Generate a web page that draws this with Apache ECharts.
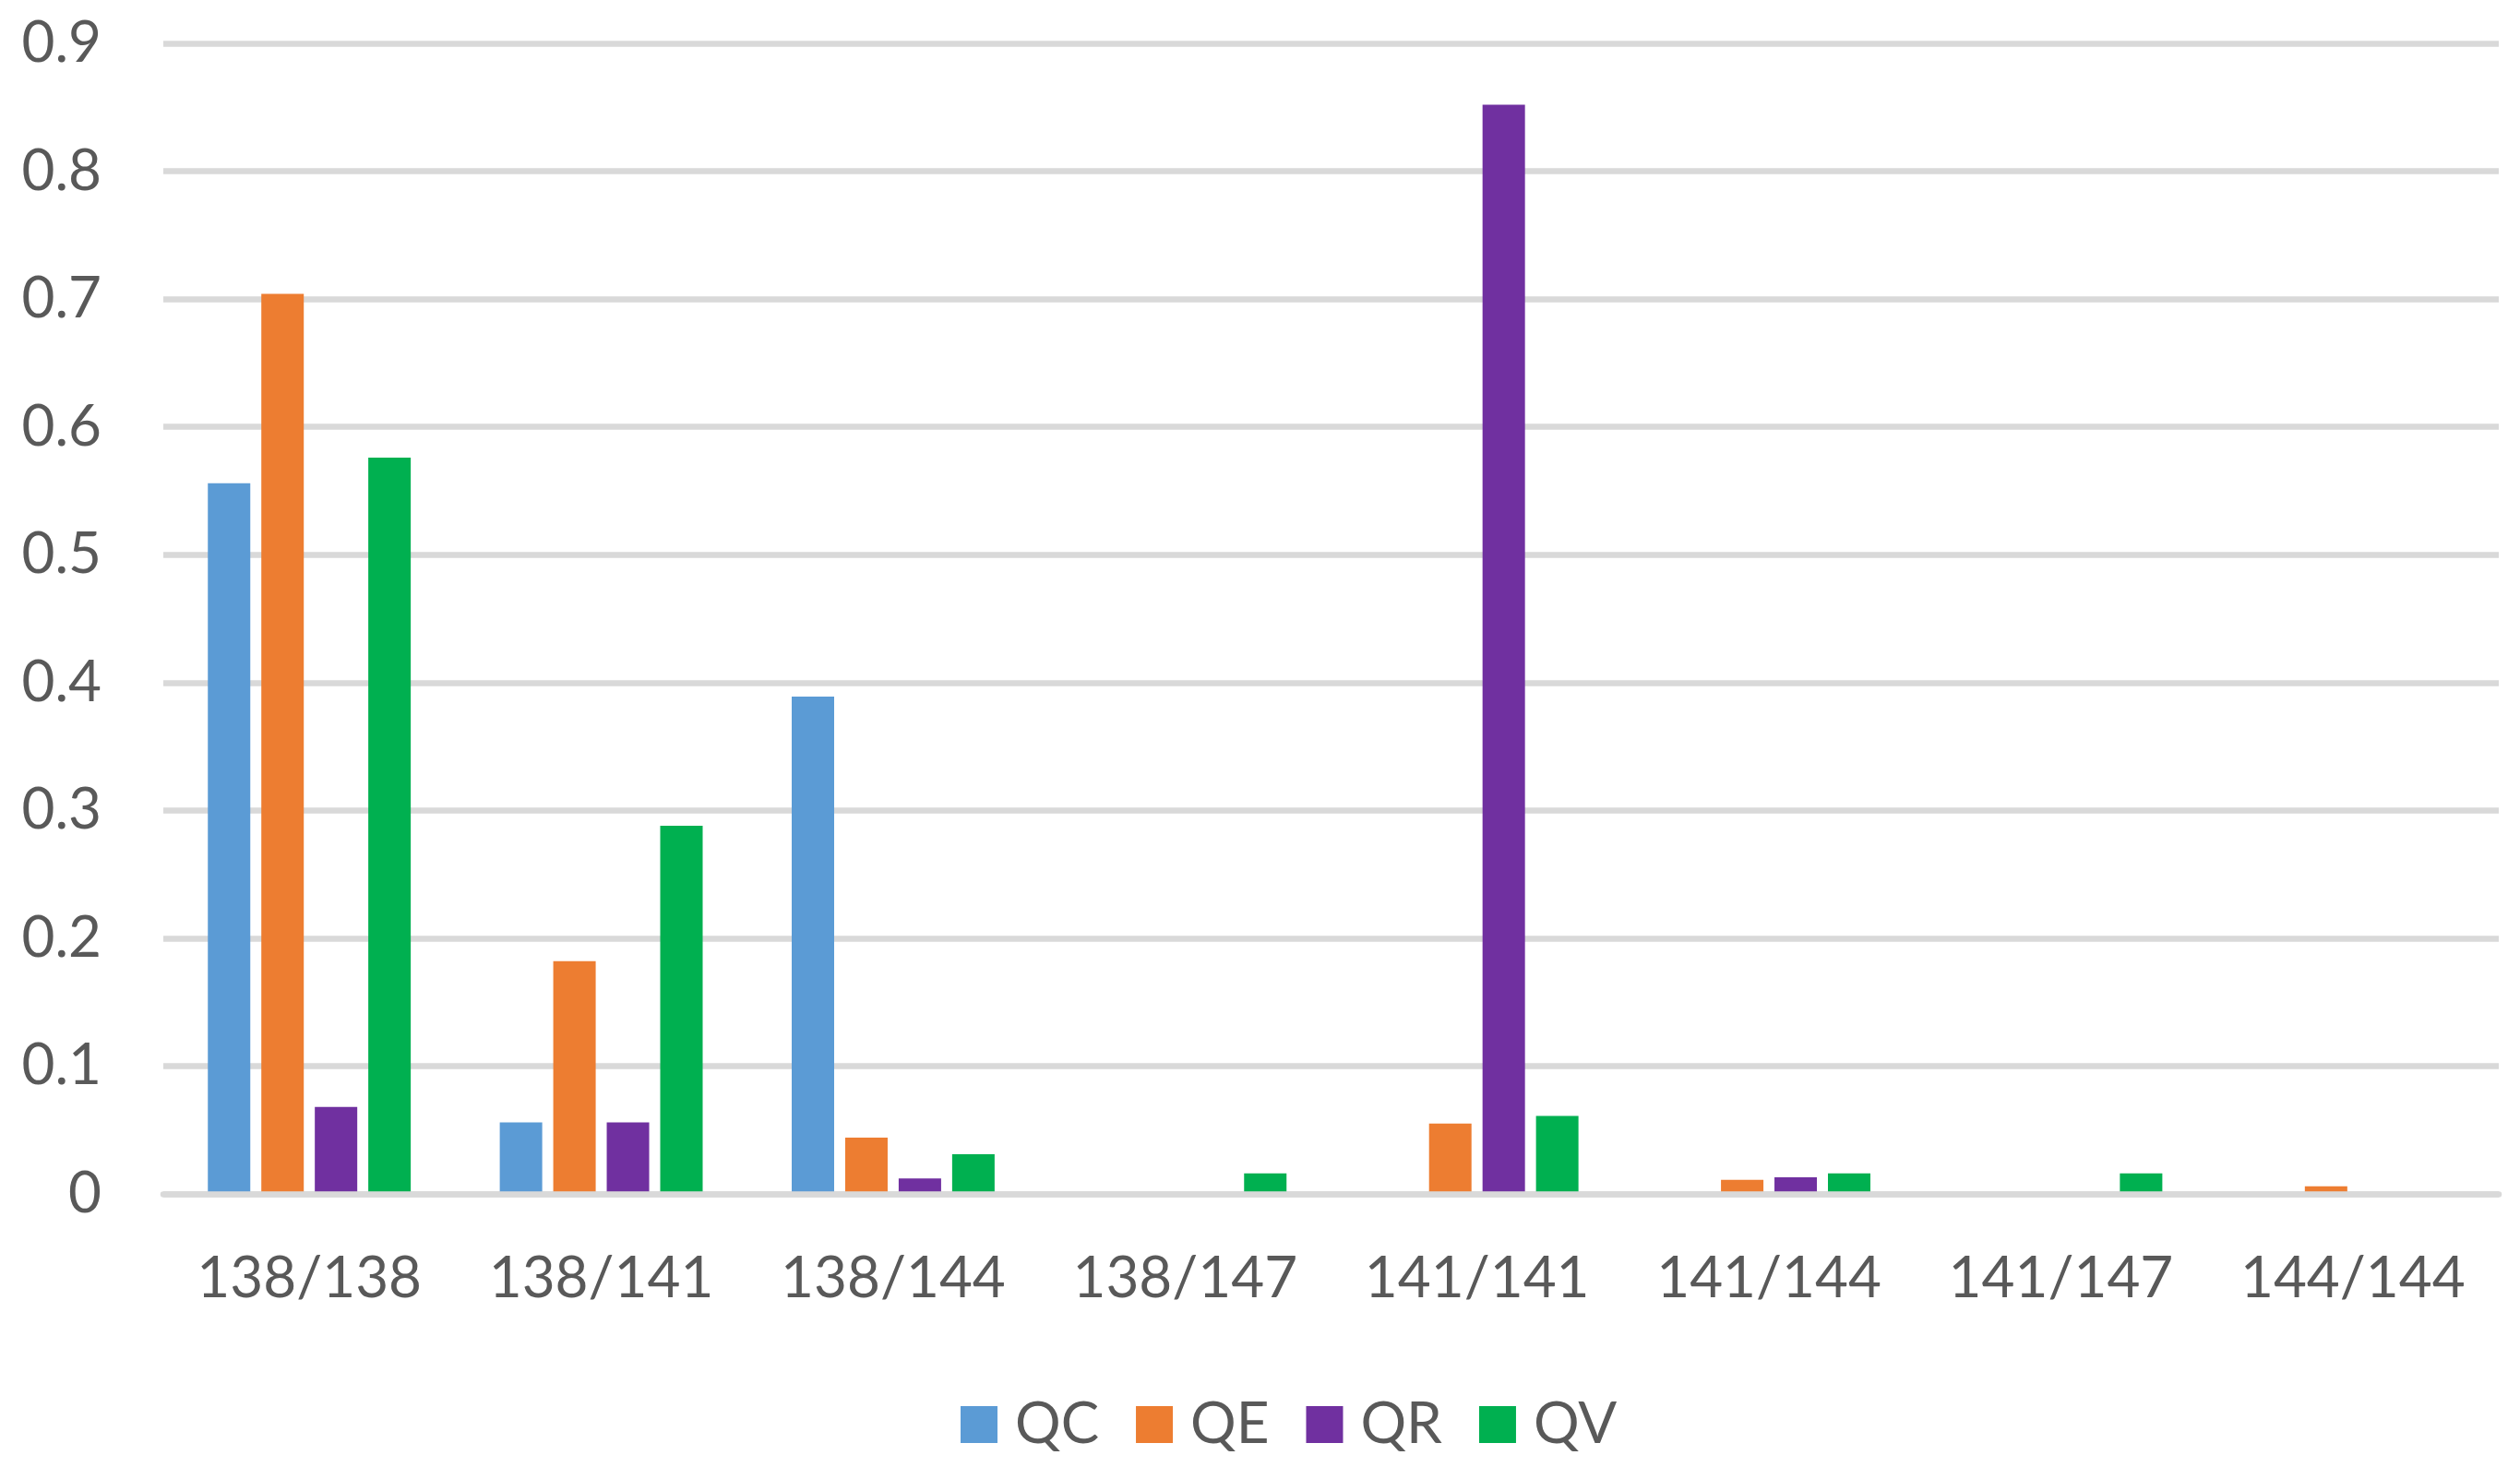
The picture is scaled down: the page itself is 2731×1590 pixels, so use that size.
<!DOCTYPE html>
<html>
<head>
<meta charset="utf-8">
<script src="https://cdn.jsdelivr.net/npm/echarts@6/dist/echarts.min.js"></script>
<style>
html,body{margin:0;padding:0;background:#fff;}
#chart{width:2731px;height:1590px;}
</style>
</head>
<body>
<div id="chart"></div>
<script>
const categories = ['138/138','138/141','138/144','138/147','141/141','141/144','141/147','144/144'];
const seriesNames = ['QC','QE','QR','QV'];
const QC = [0.556, 0.056, 0.389, 0, 0, 0, 0, 0];
const QE = [0.704, 0.182, 0.044, 0, 0.055, 0.011, 0, 0.006];
const QR = [0.068, 0.056, 0.012, 0, 0.852, 0.013, 0, 0];
const QV = [0.576, 0.288, 0.031, 0.016, 0.061, 0.016, 0.016, 0];
const yTicks = ['0','0.1','0.2','0.3','0.4','0.5','0.6','0.7','0.8','0.9'];

const colors = ['#5B9BD5','#ED7D31','#7030A0','#00B050'];
const values = [QC, QE, QR, QV];
const FONT = 'Lato';
const chart = echarts.init(document.getElementById('chart'));
chart.setOption({
  animation: false,
  backgroundColor: '#ffffff',
  color: colors,
  grid: { left: 177, right: 23, top: 47, bottom: 296, containLabel: false },
  legend: {
    data: seriesNames,
    left: 1036,
    top: 1508,
    itemWidth: 40,
    itemHeight: 40,
    itemGap: 40,
    icon: 'rect',
    textStyle: { fontFamily: FONT, fontSize: 62, color: '#595959', padding: [0,0,0,14] }
  },
  xAxis: {
    type: 'category',
    data: categories,
    z: 3,
    axisLine: { show: true, lineStyle: { color: '#d9d9d9', width: 6.5 } },
    axisTick: { show: false },
    axisLabel: { interval: 0, fontFamily: FONT, fontSize: 62, color: '#595959', margin: 61 }
  },
  yAxis: {
    type: 'value',
    min: 0, max: 0.9, interval: 0.1,
    axisLine: { show: false },
    axisTick: { show: false },
    axisLabel: {
      fontFamily: FONT, fontSize: 62, color: '#595959', margin: 67,
      formatter: function (v) { return yTicks[Math.round(v * 10)]; }
    },
    splitLine: { show: true, lineStyle: { color: '#d9d9d9', width: 6.5 } }
  },
  series: seriesNames.map(function (name, i) {
    return {
      name: name,
      type: 'bar',
      data: values[i],
      barWidth: 46,
      barGap: '26%',
      itemStyle: { color: colors[i] }
    };
  })
});
</script>
</body>
</html>
